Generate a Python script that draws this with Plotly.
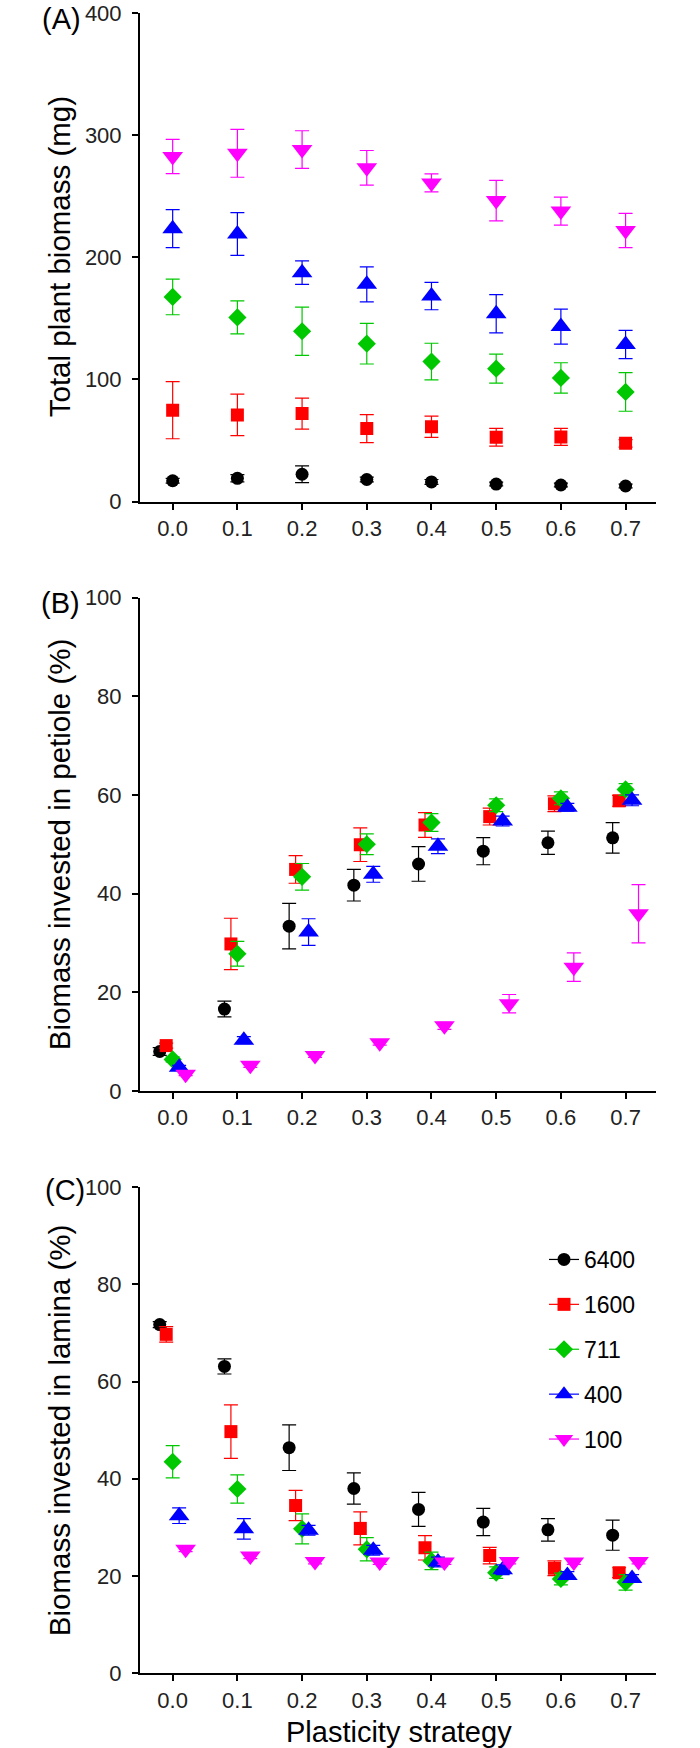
import plotly.graph_objects as go

# ---------------- data ----------------
strategy = [0.0, 0.1, 0.2, 0.3, 0.4, 0.5, 0.6, 0.7]
densities = ["6400", "1600", "711", "400", "100"]

# (A) Total plant biomass (mg): mean and error
total_6400 = [17.0, 19.0, 22.3, 18.0, 16.0, 14.3, 13.5, 12.7]
total_6400_err = [2.0, 3.0, 6.9, 2.0, 2.0, 1.5, 1.5, 1.5]
total_1600 = [74.8, 70.9, 72.0, 59.7, 61.2, 52.6, 52.9, 47.6]
total_1600_err = [23.4, 17.0, 12.7, 11.5, 8.7, 7.2, 6.9, 3.0]
total_711 = [167.5, 150.7, 139.4, 129.2, 114.6, 108.8, 101.2, 89.7]
total_711_err = [14.6, 13.5, 19.8, 16.6, 15.0, 11.9, 12.4, 15.8]
total_400 = [223.4, 219.1, 187.4, 177.8, 168.2, 153.7, 143.2, 128.6]
total_400_err = [15.6, 17.5, 9.6, 14.3, 11.2, 15.7, 14.3, 11.6]
total_100 = [282.5, 285.1, 288.2, 273.2, 260.9, 246.4, 237.8, 221.9]
total_100_err = [14.1, 19.6, 15.4, 14.2, 7.3, 16.6, 11.5, 14.1]

# (B) Biomass invested in petiole (%)
pet_6400 = [8.0, 16.6, 33.4, 41.7, 46.0, 48.6, 50.3, 51.3]
pet_6400_err = [0.8, 1.6, 4.6, 3.2, 3.5, 2.75, 2.35, 3.1]
pet_1600 = [9.2, 29.8, 44.9, 49.9, 53.9, 55.6, 58.2, 58.8]
pet_1600_err = [0.5, 5.2, 2.8, 3.4, 2.5, 1.7, 1.6, 1.1]
pet_711 = [6.4, 27.8, 43.4, 50.0, 54.4, 57.9, 59.3, 61.1]
pet_711_err = [0.5, 2.5, 2.7, 2.1, 1.8, 1.3, 1.3, 1.2]
pet_400 = [4.8, 10.3, 32.2, 43.9, 49.6, 54.7, 57.5, 58.9]
pet_400_err = [0.4, 0.7, 2.7, 1.6, 1.5, 1.0, 0.8, 1.1]
pet_100 = [3.4, 5.2, 7.2, 9.8, 13.2, 17.7, 25.1, 35.9]
pet_100_err = [0.3, 0.4, 0.4, 0.5, 0.7, 1.85, 2.9, 5.9]

# (C) Biomass invested in lamina (%)
lam_6400 = [71.7, 63.1, 46.4, 38.0, 33.7, 31.1, 29.5, 28.4]
lam_6400_err = [0.6, 1.55, 4.7, 3.2, 3.5, 2.8, 2.3, 3.1]
lam_1600 = [69.7, 49.7, 34.5, 29.8, 25.8, 24.2, 21.6, 20.7]
lam_1600_err = [1.6, 5.5, 3.1, 3.4, 2.5, 1.7, 1.5, 1.0]
lam_711 = [43.5, 37.9, 29.7, 25.5, 23.1, 20.7, 19.4, 18.7]
lam_711_err = [3.3, 2.9, 3.1, 2.4, 1.8, 1.2, 1.2, 1.6]
lam_400 = [32.4, 29.7, 29.4, 25.3, 22.9, 21.3, 20.1, 19.5]
lam_400_err = [1.6, 2.1, 1.0, 1.0, 1.0, 1.0, 0.8, 0.8]
lam_100 = [25.5, 24.1, 23.0, 22.9, 22.9, 23.0, 22.9, 23.0]
lam_100_err = [0.5, 0.5, 0.5, 0.5, 0.5, 0.5, 0.5, 0.5]

x_ticks = [0.0, 0.1, 0.2, 0.3, 0.4, 0.5, 0.6, 0.7]
y_ticks_A = [0, 100, 200, 300, 400]
y_ticks_pct = [0, 20, 40, 60, 80, 100]

# ---------------- styles ----------------
colors = ["#000000", "#ff0000", "#00c800", "#0000ff", "#ff00ff"]
symbols = ["circle", "square", "diamond", "triangle-up", "triangle-down"]
sizes = [13, 13, 14, 18, 18]
dodge = [-0.02, -0.01, 0.0, 0.01, 0.02]

panels = [
    ("x", "y", [total_6400, total_1600, total_711, total_400, total_100],
     [total_6400_err, total_1600_err, total_711_err, total_400_err, total_100_err], False),
    ("x2", "y2", [pet_6400, pet_1600, pet_711, pet_400, pet_100],
     [pet_6400_err, pet_1600_err, pet_711_err, pet_400_err, pet_100_err], True),
    ("x3", "y3", [lam_6400, lam_1600, lam_711, lam_400, lam_100],
     [lam_6400_err, lam_1600_err, lam_711_err, lam_400_err, lam_100_err], True),
]

fig = go.Figure()
for xa, ya, vals, errs, do_dodge in panels:
    for i in range(5):
        xs = [s + (dodge[i] if do_dodge else 0.0) for s in strategy]
        fig.add_trace(go.Scatter(
            x=xs, y=vals[i], xaxis=xa, yaxis=ya, mode="markers",
            marker=dict(symbol=symbols[i], size=sizes[i], color=colors[i], line=dict(width=0)),
            error_y=dict(type="data", array=errs[i], visible=True, color=colors[i],
                         thickness=1.2, width=7),
            showlegend=False, hoverinfo="x+y",
        ))

# legend-only traces (line + marker symbol)
for i in range(5):
    fig.add_trace(go.Scatter(
        x=[None], y=[None], xaxis="x3", yaxis="y3", mode="lines+markers",
        name=densities[i], legendgroup=densities[i],
        marker=dict(symbol=symbols[i], size=sizes[i], color=colors[i]),
        line=dict(color=colors[i], width=1.2),
    ))

W, H = 700, 1748

def px(xp):
    return xp / W

def py(yp):
    return (H - yp) / H

xdom = [px(140), px(656)]
domA = [py(501.5), py(13)]
domB = [py(1091), py(597.5)]
domC = [py(1673.3), py(1187)]

tickfont = dict(family="Liberation Sans, Arial, sans-serif", size=22, color="#222222")
common_x = dict(range=[-0.0505, 0.747], tickvals=x_ticks, tickformat=".1f",
                showline=True, linecolor="black", linewidth=2, ticks="outside",
                ticklen=6, tickwidth=2, tickcolor="black", showgrid=False,
                zeroline=False, tickfont=tickfont, domain=xdom, automargin=False)
common_y = dict(showline=True, linecolor="black", linewidth=2, ticks="outside",
                ticklen=6, tickwidth=2, tickcolor="black", showgrid=False,
                zeroline=False, tickfont=tickfont, ticklabelstandoff=6, automargin=False,
                ticklabeloverflow="allow")

fig.update_layout(
    template="none",
    width=W, height=H, margin=dict(l=0, r=0, t=0, b=0, autoexpand=False),
    paper_bgcolor="white", plot_bgcolor="white",
    font=dict(family="Liberation Sans, Arial, sans-serif", color="black"),
    xaxis=dict(anchor="y", **common_x),
    yaxis=dict(anchor="x", domain=domA, range=[0, 400], tickvals=y_ticks_A, **common_y),
    xaxis2=dict(anchor="y2", **common_x),
    yaxis2=dict(anchor="x2", domain=domB, range=[0, 100], tickvals=y_ticks_pct, **common_y),
    xaxis3=dict(anchor="y3", **common_x),
    yaxis3=dict(anchor="x3", domain=domC, range=[0, 100], tickvals=y_ticks_pct, **common_y),
    legend=dict(x=px(544), y=py(1238), xanchor="left", yanchor="top",
                font=dict(size=23, color="black"), bgcolor="rgba(0,0,0,0)",
                borderwidth=0, tracegroupgap=12, itemsizing="trace"),
    showlegend=True,
)

title_font = dict(family="Liberation Sans, Arial, sans-serif", size=29, color="black")
ytitle_font = dict(family="Liberation Sans, Arial, sans-serif", size=29.5, color="black")
annos = [
    dict(text="Total plant biomass (mg)", x=px(59), y=(domA[0] + domA[1]) / 2, textangle=-90, font=ytitle_font),
    dict(text="Biomass invested in petiole (%)", x=px(59), y=(domB[0] + domB[1]) / 2, textangle=-90, font=ytitle_font),
    dict(text="Biomass invested in lamina (%)", x=px(59), y=(domC[0] + domC[1]) / 2, textangle=-90, font=ytitle_font),
    dict(text="Plasticity strategy", x=px(399), y=py(1731.7), textangle=0, font=title_font),
    dict(text="(A)", x=px(62), y=py(19), textangle=0, font=title_font),
    dict(text="(B)", x=px(60), y=py(603), textangle=0, font=title_font),
    dict(text="(C)", x=px(65), y=py(1190), textangle=0, font=title_font),
]
for a in annos:
    fig.add_annotation(xref="paper", yref="paper", showarrow=False,
                       xanchor="center", yanchor="middle", **a)

# remove the browser's default 8px page margin so the figure fills the window
fig.write_html("out.html", config={"displayModeBar": False},
               post_script="document.body.style.margin='0';")
